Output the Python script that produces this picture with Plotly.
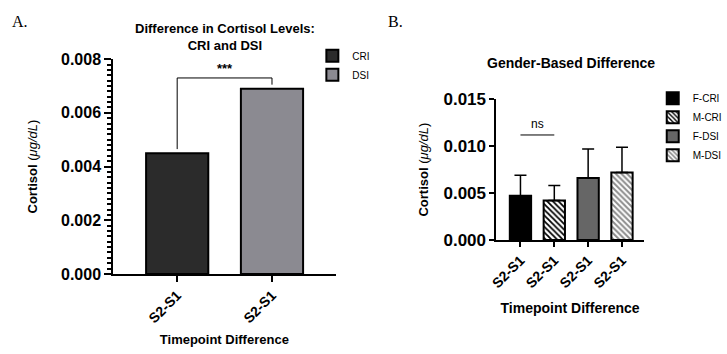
import plotly.graph_objects as go

# ---------------- data ----------------
groups_a = ["CRI", "DSI"]
ticks_a = ["S2-S1", "S2-S1"]
vals_a = [0.0045, 0.0069]
colors_a = ["#2b2b2b", "#8b8a91"]

groups_b = ["F-CRI", "M-CRI", "F-DSI", "M-DSI"]
ticks_b = ["S2-S1", "S2-S1", "S2-S1", "S2-S1"]
vals_b = [0.0047, 0.0042, 0.0066, 0.0072]
errs_b = [0.0022, 0.0016, 0.0031, 0.0027]

sig_a = "***"
sig_b = "ns"
sig_level_b = 0.0112

FONT = "Liberation Sans, Arial, sans-serif"

fig = go.Figure()

# ---- panel A ----
for i, (g, v, c) in enumerate(zip(groups_a, vals_a, colors_a)):
    fig.add_trace(go.Bar(
        x=[i], y=[v], name=g, marker=dict(color=c, line=dict(color="black", width=2)),
        width=0.656, xaxis="x", yaxis="y", legend="legend",
    ))

# ---- panel B ----
styles_b = [
    dict(color="black", pattern=None),
    dict(color="white", pattern=dict(shape="\\", fgcolor="black", bgcolor="white", size=4, solidity=0.45, fillmode="replace")),
    dict(color="#666666", pattern=None),
    dict(color="white", pattern=dict(shape="\\", fgcolor="#8c8c8c", bgcolor="white", size=4, solidity=0.5, fillmode="replace")),
]
for i, (g, v, e, st) in enumerate(zip(groups_b, vals_b, errs_b, styles_b)):
    marker = dict(color=st["color"], line=dict(color="black", width=2))
    if st["pattern"]:
        marker["pattern"] = st["pattern"]
    fig.add_trace(go.Bar(
        x=[i], y=[v], name=g, marker=marker, width=0.63,
        error_y=dict(type="data", array=[e], arrayminus=[0], symmetric=False,
                     color="black", thickness=1.5, width=6),
        xaxis="x2", yaxis="y2", legend="legend2",
    ))

# ---- brackets ----
top_a = max(vals_a) + 0.0004
fig.add_shape(type="path", xref="x", yref="y",
              path=f"M 0 {vals_a[0] + 0.00015} L 0 {top_a} L 1 {top_a} L 1 {vals_a[1] + 0.00015}",
              line=dict(color="black", width=1))
fig.add_annotation(x=0.5, y=top_a, xref="x", yref="y", text=f"<b>{sig_a}</b>",
                   showarrow=False, yanchor="bottom", font=dict(size=13, color="black", family=FONT))
fig.add_shape(type="line", xref="x2", yref="y2", x0=0, x1=1, y0=sig_level_b, y1=sig_level_b,
              line=dict(color="black", width=1))
fig.add_annotation(x=0.5, y=sig_level_b, xref="x2", yref="y2", text=sig_b,
                   showarrow=False, yanchor="bottom", yshift=2, font=dict(size=12, color="black", family=FONT))

# ---- titles / labels ----
fig.add_annotation(x=3 / 727, y=1 - 13 / 354, xref="paper", yref="paper", text="A.", showarrow=False,
                   xanchor="left", yanchor="middle", font=dict(family="Liberation Serif, serif", size=16, color="black"))
fig.add_annotation(x=390 / 727, y=1 - 13 / 354, xref="paper", yref="paper", text="B.", showarrow=False,
                   xanchor="left", yanchor="middle", font=dict(family="Liberation Serif, serif", size=16, color="black"))
fig.add_annotation(x=224 / 727, y=1 - 29.5 / 354, xref="paper", yref="paper",
                   text="<b>Difference in Cortisol Levels:<br>CRI and DSI</b>", showarrow=False,
                   xanchor="center", yanchor="middle", font=dict(family=FONT, size=13, color="black"))
fig.add_annotation(x=580 / 727, y=1 - 57 / 354, xref="paper", yref="paper",
                   text="<b>Gender-Based Difference</b>", showarrow=False,
                   xanchor="center", yanchor="middle", font=dict(family=FONT, size=14, color="black"))

axis_common = dict(showgrid=False, zeroline=False, showline=True, linecolor="black", linewidth=1.5,
                   ticks="outside", tickcolor="black", tickwidth=2)

fig.update_layout(
    width=727, height=354, margin=dict(l=0, r=0, t=0, b=0),
    paper_bgcolor="white", plot_bgcolor="white",
    font=dict(family=FONT, color="black"),
    barmode="overlay",
    xaxis=dict(domain=[109 / 727, 338 / 727], range=[-0.677, 1.672], anchor="y",
               tickvals=[0, 1], ticktext=ticks_a, tickangle=-45,
               tickfont=dict(size=14, weight="bold"), ticklen=6,
               title=dict(text="<b>Timepoint Difference</b>", font=dict(size=13), standoff=10),
               **axis_common),
    yaxis=dict(domain=[74 / 354, 301 / 354], range=[0, 0.008], anchor="x",
               tickmode="linear", tick0=0, dtick=0.002, tickformat=".3f",
               tickfont=dict(size=16, weight="bold"), ticklen=7,
               minor=dict(dtick=0.0002, ticks="outside", ticklen=4, tickwidth=1.5, tickcolor="black"),
               title=dict(text="<b>Cortisol</b> (<i>μg/dL</i>)", font=dict(size=13), standoff=20),
               **axis_common),
    xaxis2=dict(domain=[503 / 727, 655 / 727], range=[-0.718, 3.65], anchor="y2",
                tickvals=[0, 1, 2, 3], ticktext=ticks_b, tickangle=-45,
                tickfont=dict(size=14, weight="bold"), ticklen=5,
                title=dict(text="<b>Timepoint Difference</b>", font=dict(size=14), standoff=13),
                **axis_common),
    yaxis2=dict(domain=[110 / 354, 258.5 / 354], range=[0, 0.015], anchor="x2",
                tickmode="linear", tick0=0, dtick=0.005, tickformat=".3f",
                tickfont=dict(size=17, weight="bold"), ticklen=5,
                title=dict(text="<b>Cortisol</b> (<i>μg/dL</i>)", font=dict(size=13), standoff=12),
                **axis_common),
    legend=dict(x=314 / 727, y=1 - 34 / 354, xanchor="left", yanchor="top",
                font=dict(size=10), bgcolor="rgba(0,0,0,0)", tracegroupgap=0),
    legend2=dict(x=664 / 727, y=1 - 79 / 354, xanchor="left", yanchor="top",
                 font=dict(size=10), bgcolor="rgba(0,0,0,0)", tracegroupgap=0),
    showlegend=True,
)

fig.write_html("out.html")
